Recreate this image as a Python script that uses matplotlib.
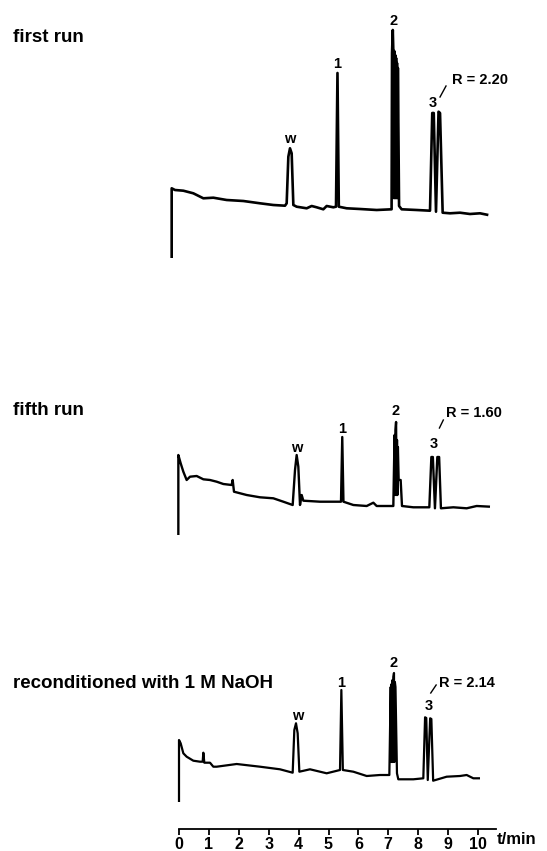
import matplotlib
matplotlib.use("Agg")
import matplotlib.pyplot as plt

plt.rcParams['font.family'] = ['Liberation Sans', 'DejaVu Sans']

# ---- data: retention time (min) and detector signal (arbitrary units) ----
t_run1 = [-0.245, -0.245, -0.134, 0.145, 0.479, 0.814, 1.148, 1.594, 2.152, 2.709, 3.155, 3.545,
          3.601, 3.657, 3.712, 3.768, 3.824, 3.935, 4.270, 4.437, 4.604, 4.827, 4.939, 5.162,
          5.251, 5.300, 5.345, 5.608, 6.054, 6.611, 7.110, 7.125, 7.150, 7.170, 7.185, 7.200,
          7.215, 7.230, 7.245, 7.260, 7.275, 7.290, 7.305, 7.320, 7.360, 7.447, 7.949, 8.395,
          8.470, 8.520, 8.595, 8.680, 8.730, 8.818, 9.064, 9.398, 9.732, 10.067, 10.346]
s_run1 = [0, 69.7, 68, 67.3, 64.7, 59.7, 60.3, 58, 57, 54.7, 53, 52.3,
          54.7, 101.3, 109.7, 104.7, 53, 51.3, 49.7, 52, 50.7, 48.7, 52, 50.7,
          51.3, 185, 51.3, 49.7, 49, 48, 48.7, 205, 228, 205, 60, 207,
          60, 203, 60, 200, 60, 195, 60, 190, 52, 48.7, 48, 47.3,
          145, 145, 46.3, 146.3, 145, 45.3, 44.7, 45.3, 44, 44.7, 43]

t_run2 = [-0.022, -0.022, 0.056, 0.145, 0.256, 0.368, 0.591, 0.814, 1.037, 1.260, 1.483, 1.761,
          1.795, 1.839, 2.263, 2.709, 3.155, 3.489, 3.802, 3.880, 3.935, 3.991, 4.047, 4.103,
          4.158, 4.716, 5.418, 5.460, 5.500, 5.831, 6.277, 6.500, 6.611, 7.168, 7.210, 7.225,
          7.240, 7.260, 7.275, 7.290, 7.305, 7.320, 7.346, 7.413, 7.458, 7.837, 8.372, 8.440,
          8.490, 8.560, 8.640, 8.700, 8.760, 9.175, 9.621, 9.955, 10.401]
s_run2 = [0, 80, 71.7, 63.3, 55, 58.3, 59, 55.7, 55, 53.3, 51, 50,
          55, 43.3, 40, 37.7, 36.7, 33.3, 30, 65, 80, 68.3, 30, 40,
          34.3, 33.3, 33.3, 98, 33.3, 30, 29, 32.3, 29, 29, 100, 40,
          105, 113, 40, 95, 40, 88, 55, 55, 29, 27.7, 27.7, 78,
          78, 26.7, 78, 78, 26.7, 27.7, 26.7, 29, 28.3]

t_run3 = [0.0, 0.0, 0.056, 0.145, 0.256, 0.479, 0.702, 0.792, 0.814, 0.847, 1.037, 1.148,
          1.260, 1.929, 2.709, 3.378, 3.802, 3.857, 3.913, 3.969, 4.025, 4.381, 4.939, 5.385,
          5.430, 5.480, 5.831, 6.277, 6.722, 7.035, 7.080, 7.095, 7.110, 7.125, 7.140, 7.155,
          7.170, 7.190, 7.205, 7.220, 7.240, 7.290, 7.335, 7.837, 8.171, 8.230, 8.270, 8.320,
          8.400, 8.440, 8.500, 8.952, 9.398, 9.621, 9.844, 10.067]
s_run3 = [0, 62, 58.7, 48.7, 45.3, 41.3, 40.3, 40.3, 49.3, 39.3, 39.3, 35.3,
          35.3, 38, 35.3, 32.7, 29.3, 72, 78.7, 68.7, 30.3, 32.7, 28.7, 32,
          112, 32, 30.3, 26, 27, 27, 115, 40, 118, 40, 122, 40,
          125, 129, 40, 120, 115, 28.7, 22.7, 22.7, 23.7, 84.7, 84, 22,
          83.7, 83, 21.3, 25.3, 26, 27, 23.7, 23.7]

run_titles = ["first run", "fifth run", "reconditioned with 1 M NaOH"]
resolutions = ["R = 2.20", "R = 1.60", "R = 2.14"]
peak_names = ["w", "1", "2", "3"]
peak_times = [[3.71, 5.30, 7.17, 8.50],
              [3.94, 5.46, 7.25, 8.53],
              [3.96, 5.43, 7.16, 8.34]]
tick_values = [0, 1, 2, 3, 4, 5, 6, 7, 8, 9, 10]
axis_label = "t/min"

# ---- layout ----
offsets = [593, 316, 49]
peak_label_y = [[115, 190, 233, 151], [83, 102, 120, 87], [82, 115, 135, 92]]
title_y = [809, 436, 163]
r_pos = [(9.14, 178), (8.92, 122), (8.69, 119)]
slash = [((8.73, 161), (8.93, 172)), ((8.71, 107), (8.84, 115)), ((8.42, 109), (8.60, 117))]

fig = plt.figure(figsize=(5.47, 8.51), dpi=100)
ax = fig.add_axes([0, 0, 1, 1])
ax.set_xlim(-179 / 29.9, (547 - 179) / 29.9)
ax.set_ylim(0, 851)

traces = [(t_run1, s_run1, 1.9), (t_run2, s_run2, 1.7), (t_run3, s_run3, 1.6)]
for i, (tt, ss, lw) in enumerate(traces):
    off = offsets[i]
    ax.plot(tt, [v + off for v in ss], color='black', lw=lw,
            solid_joinstyle='round', solid_capstyle='butt')
    for name, pt, py in zip(peak_names, peak_times[i], peak_label_y[i]):
        ax.text(pt, py + off, name, ha='center', va='baseline',
                fontsize=10.5, fontweight='bold')
    rx, ry = r_pos[i]
    ax.text(rx, ry + off, resolutions[i], ha='left', va='center',
            fontsize=10.5, fontweight='bold')
    (x0, y0), (x1, y1) = slash[i]
    ax.plot([x0, x1], [y0 + off, y1 + off], color='black', lw=1.0)
    ax.text(-5.55, title_y[i], run_titles[i], ha='left', va='baseline',
            fontsize=13.5, fontweight='bold')

# time axis
for s in ['top', 'left', 'right']:
    ax.spines[s].set_visible(False)
ax.spines['bottom'].set_position(('data', 22))
ax.spines['bottom'].set_bounds(0, 10.6)
ax.spines['bottom'].set_linewidth(1.3)
ax.set_xticks(tick_values)
ax.set_xticklabels([str(v) for v in tick_values], fontsize=11.5, fontweight='bold')
ax.tick_params(axis='x', direction='out', length=4, width=1.3, pad=1.5)
ax.set_yticks([])
ax.text(10.64, 19, axis_label, ha='left', va='top', fontsize=12, fontweight='bold')

fig.savefig("out.png", dpi=100, facecolor='white')
